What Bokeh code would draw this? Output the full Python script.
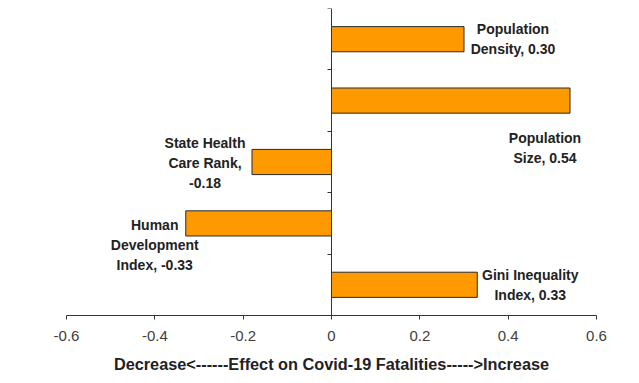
from bokeh.plotting import figure
from bokeh.models import Range1d, LinearAxis, FixedTicker, CustomJSTickFormatter, ColumnDataSource
from bokeh.core.properties import value
from bokeh.embed import file_html
from bokeh.resources import INLINE

# ---- data ----
factors = ["Population Density", "Population Size", "State Health Care Rank",
           "Human Development Index", "Gini Inequality Index"]
effects = [0.30, 0.54, -0.18, -0.33, 0.33]
labels = ["Population\nDensity, 0.30", "Population\nSize, 0.54",
          "State Health\nCare Rank,\n-0.18", "Human\nDevelopment\nIndex, -0.33",
          "Gini Inequality\nIndex, 0.33"]
x_ticks = [-0.6, -0.4, -0.2, 0, 0.2, 0.4, 0.6]

# label placement (pixel offsets from the bar end)
label_dx = [49, -25, -47, -31, 53]
label_dy = [0, 47, 1, 22, 0]

n = len(factors)
ypos = [n - i - 0.5 for i in range(n)]

src = ColumnDataSource(dict(y=ypos, x=effects, label=labels, dx=label_dx, dy=label_dy))

p = figure(width=631, height=375, output_backend="svg", toolbar_location=None,
           x_range=Range1d(-0.6, 0.6), y_range=Range1d(0, n),
           min_border_left=66, min_border_right=35, min_border_top=8, min_border_bottom=40,
           y_axis_location=None)
p.outline_line_color = None
p.grid.visible = False
p.background_fill_color = "white"
p.border_fill_color = "white"

p.hbar(y="y", right="x", left=0, height=0.41, source=src,
       fill_color="#FF9900", line_color="#2a2a2a", line_width=1)

p.text(x="x", y="y", text="label", x_offset="dx", y_offset="dy", source=src,
       text_align="center", text_baseline="middle",
       text_font=value("Liberation Sans"), text_font_style="bold",
       text_font_size="14px", text_color="#222222", text_line_height=1.25)

# bottom axis
xa = p.xaxis[0]
xa.ticker = FixedTicker(ticks=x_ticks)
xa.formatter = CustomJSTickFormatter(code="return tick == 0 ? '0' : tick.toFixed(1);")
xa.axis_label = "Decrease<------Effect on Covid-19 Fatalities----->Increase"
xa.axis_label_text_font = "Liberation Sans"
xa.axis_label_text_font_style = "bold"
xa.axis_label_text_font_size = "16.3px"
xa.axis_label_text_color = "#222222"
xa.axis_label_standoff = 11
xa.major_label_text_font = "Liberation Sans"
xa.major_label_text_font_size = "15px"
xa.major_label_text_color = "#404040"
xa.major_label_standoff = 11
xa.axis_line_color = "#333333"
xa.major_tick_line_color = "#333333"
xa.major_tick_in = 0
xa.major_tick_out = 4
xa.minor_tick_line_color = None

# vertical axis through zero with ticks at category boundaries (no labels)
ya = LinearAxis(fixed_location=0, ticker=FixedTicker(ticks=list(range(n + 1))),
                formatter=CustomJSTickFormatter(code="return '';"),
                axis_line_color="#333333",
                major_tick_line_color="#333333", major_tick_in=0, major_tick_out=4,
                minor_tick_line_color=None)
p.add_layout(ya, "left")

open("out.html", "w").write(file_html(p, INLINE))
